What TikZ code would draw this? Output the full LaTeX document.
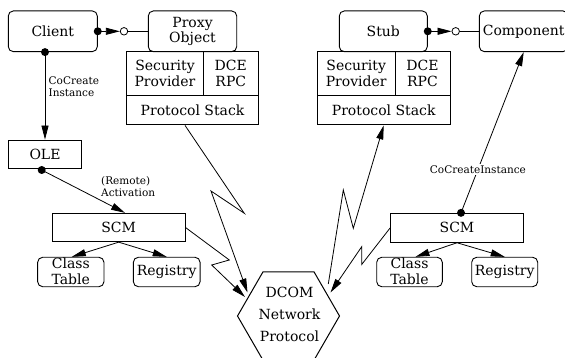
\documentclass[tikz,border=0pt]{standalone}
\usepackage{fontspec}
\setmainfont{DejaVu Serif}
\usetikzlibrary{arrows.meta,shapes.geometric,calc}
\begin{document}
\begin{tikzpicture}[x=1pt,y=-1pt,
  box/.style={draw,line width=0.9pt,inner sep=0pt,align=center,font=\fontsize{14}{16}\selectfont},
  rbox/.style={box,rounded corners=5pt},
  txt/.style={inner sep=0pt,align=center,font=\fontsize{14}{16}\selectfont},
  lbl/.style={inner sep=1pt,align=left,font=\fontsize{10.5}{12.5}\selectfont},
  conn/.style={line width=0.8pt,-{Triangle[length=14pt,width=7pt]}},
  plain/.style={line width=0.8pt},
  ball/.style={circle,fill=black,inner sep=0pt,minimum size=8pt},
  sock/.style={circle,draw,fill=white,line width=0.8pt,inner sep=0pt,minimum size=7.5pt},
]
\useasboundingbox (0,0) rectangle (565,358);
\clip (0,0) rectangle (565,358);

% ---- left side ----
\node[rbox,minimum width=89pt,minimum height=40.7pt] (client) at (52.8,31.3) {Client};
\node[rbox,minimum width=88.4pt,minimum height=40.7pt,font=\fontsize{14}{14.5}\selectfont] (proxy) at (192.5,31.3) {Proxy\\Object};
\node[box,minimum width=76.6pt,minimum height=44pt] (secL) at (165,73.7) {Security\\Provider};
\node[box,minimum width=55pt,minimum height=44pt] (dceL) at (230.8,73.7) {DCE\\RPC};
\node[box,minimum width=131.6pt,minimum height=29.3pt] (psL) at (192.5,110.3) {Protocol Stack};
\node[box,minimum width=73.4pt,minimum height=28.3pt] (ole) at (45,154.2) {OLE};
\node[box,minimum width=132.7pt,minimum height=28.4pt] (scmL) at (118.7,227.5) {SCM};
\node[rbox,minimum width=66.3pt,minimum height=29.4pt] (ctL) at (70.8,272) {};
\node[txt,font=\fontsize{14}{15.7}\selectfont] (ctLt) at (70.8,271) {Class\\Table};
\node[rbox,minimum width=66.7pt,minimum height=29.4pt] (regL) at (166.7,272) {Registry};

% ---- right side ----
\node[rbox,minimum width=88pt,minimum height=40.7pt] (stub) at (383.3,31.3) {Stub};
\node[rbox,minimum width=88.7pt,minimum height=40.7pt] (comp) at (523.7,31.3) {Component};
\node[box,minimum width=77.7pt,minimum height=44pt] (secR) at (356.2,73.7) {Security\\Provider};
\node[box,minimum width=55pt,minimum height=44pt] (dceR) at (422.5,73.7) {DCE\\RPC};
\node[box,minimum width=132.7pt,minimum height=29.3pt] (psR) at (383.7,110.3) {Protocol Stack};
\node[box,minimum width=132.6pt,minimum height=29pt] (scmR) at (457,227.8) {SCM};
\node[rbox,minimum width=65.6pt,minimum height=29.4pt] (ctR) at (409.5,272) {};
\node[txt,font=\fontsize{14}{15.7}\selectfont] (ctRt) at (409.5,271) {Class\\Table};
\node[rbox,minimum width=66pt,minimum height=29.4pt] (regR) at (504.7,272) {Registry};

% ---- DCOM hexagon ----
\node[draw,line width=1pt,regular polygon,regular polygon sides=6,minimum size=102pt,inner sep=0pt] (hex) at (288.5,316) {};
\node[txt,font=\fontsize{14}{21.7}\selectfont] (hext) at (289.5,314.5) {DCOM\\Network\\Protocol};

% ---- ball and socket (left) ----
\node[ball] (ballL) at (client.east) {};
\node[sock] (sockL) at (124,31.3) {};
\draw[conn] (ballL.center) -- (sockL.west);
\draw[plain] (sockL) -- (proxy.west);

% ---- ball and socket (right) ----
\node[ball] (ballR) at (stub.east) {};
\node[sock] (sockR) at (455.7,31.3) {};
\draw[conn] (ballR.center) -- (sockR.west);
\draw[plain] (sockR) -- (comp.west);

% ---- Client -> OLE ----
\node[ball] (ballC) at (client.south -| ole.north) {};
\draw[conn] (ballC.center) -- (ole.north);
\node[lbl,anchor=west] (cocL) at (47.5,86.8) {CoCreate\\Instance};

% ---- OLE -> SCM ----
\node[ball] (ballO) at ($(ole.south)+(-3.3,1.2)$) {};
\coordinate (scmLin) at ($(scmL.north)+(6.3,0)$);
\draw[conn] (ballO.center) -- (scmLin);
\node[lbl,anchor=west] (remL) at (100,186.5) {(Remote)\\Activation};

% ---- SCM -> tables ----
\draw[conn] (scmL.south) -- ($(ctL.north)+(1,0)$);
\draw[conn] (scmL.south) -- (regL.north);
\draw[conn] (scmR.south) -- ($(ctR.north)+(6,0)$);
\draw[conn] (scmR.south) -- (regR.north);

% ---- SCM right -> Component ----
\node[ball] (ballS) at ($(scmR.north)+(4,0)$) {};
\draw[conn] (ballS.center) -- node[pos=0.27,lbl,fill=white,inner sep=1.5pt] (cocR) {CoCreateInstance} (comp.south);

% ---- lightning links ----
\coordinate (tipA) at (247.5,292.5);
\coordinate (tipB) at (245,297);
\coordinate (tipC) at (330.5,292.5);
\coordinate (hexR) at (328.3,284);
\draw[conn] ($(psL.south)+(-7.5,0)$) -- (244.3,213.3) -- (211,191) -- (tipA);
\draw[conn] (scmL.east) -- (229.3,260) -- (211.7,265) -- (tipB);
\draw[conn] (hexR) -- (343.3,190) -- (353.3,228.3) -- (psR.south);
\draw[conn] (scmR.west) -- (361.7,264.5) -- (361.7,246.7) -- (tipC);
\end{tikzpicture}
\end{document}
